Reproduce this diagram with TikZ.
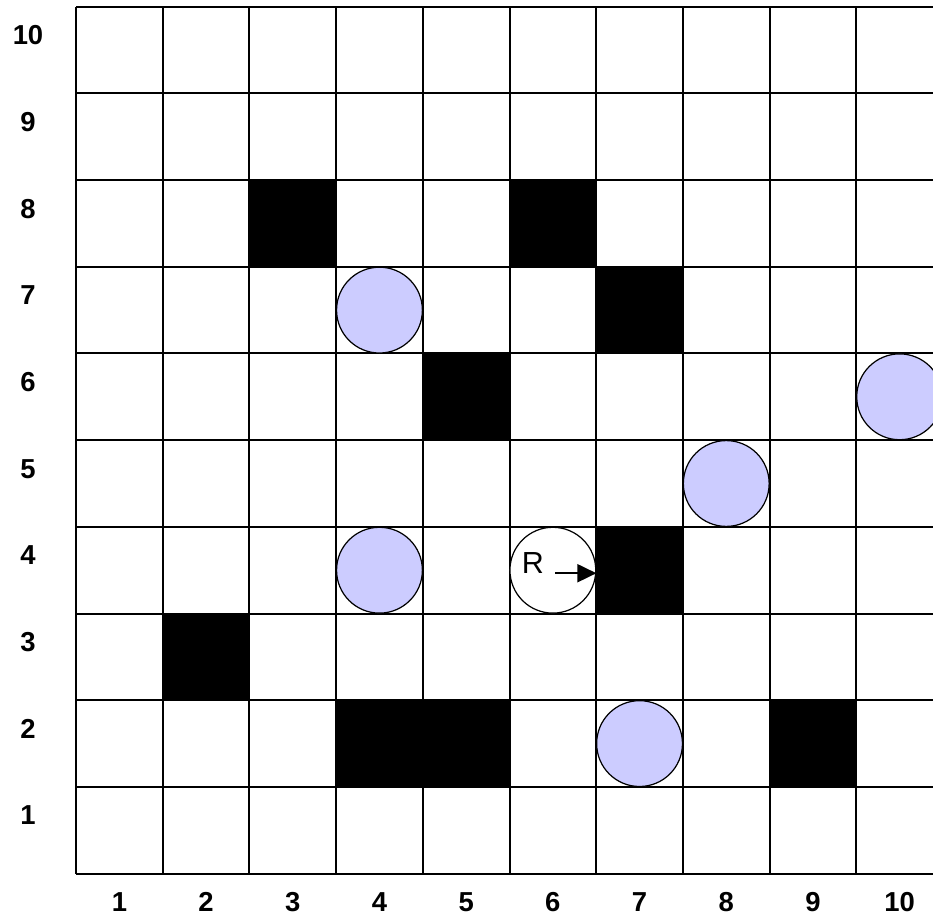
\documentclass[tikz,border=0pt]{standalone}
\usepackage{fontspec}
\setmainfont{Liberation Sans}
\usetikzlibrary{arrows.meta}
\definecolor{ballblue}{RGB}{204,204,255}

\begin{document}
\begin{tikzpicture}[x=1cm, y=1cm,
    gridline/.style={draw=black, line width=0.65pt},
    ball/.style={circle, draw=black, line width=0.4pt, fill=ballblue,
                 minimum size=0.99cm, inner sep=0pt},
    axislbl/.style={font=\fontsize{9}{9}\selectfont\bfseries}]
  \useasboundingbox (-0.877,-0.4925) rectangle (9.885,10.077);
  % walls
  \foreach \c/\r in {3/8, 6/8, 7/7, 5/6, 7/4, 2/3, 4/2, 5/2, 9/2}
    \fill[black] (\c-1,\r-1) rectangle (\c,\r);
  % board
  \draw[gridline] (0,0) grid (10,10);
  % row and column numbers
  \foreach \i in {1,...,10} {
    \node[axislbl] (row\i) at (-0.554,\i-0.33) {\i};
    \node[axislbl] (col\i) at (\i-0.5,-0.33) {\i};
  }
  % balls
  \foreach \c/\r in {4/7, 10/6, 8/5, 4/4, 7/2}
    \node[ball] (ball\c\r) at (\c-0.5,\r-0.5) {};
  % robot facing east
  \node[ball, fill=white] (robot) at (5.5,3.5) {};
  \node[font=\fontsize{10}{10}\selectfont] (rlbl) at ([xshift=-0.23cm, yshift=0.08cm]robot.center) {R};
  \draw[line width=0.5pt, -{Triangle[length=2.2mm, width=2.1mm]}]
    ([xshift=0.03cm, yshift=-0.035cm]robot.center) -- ([yshift=-0.035cm]robot.east);
\end{tikzpicture}
\end{document}
